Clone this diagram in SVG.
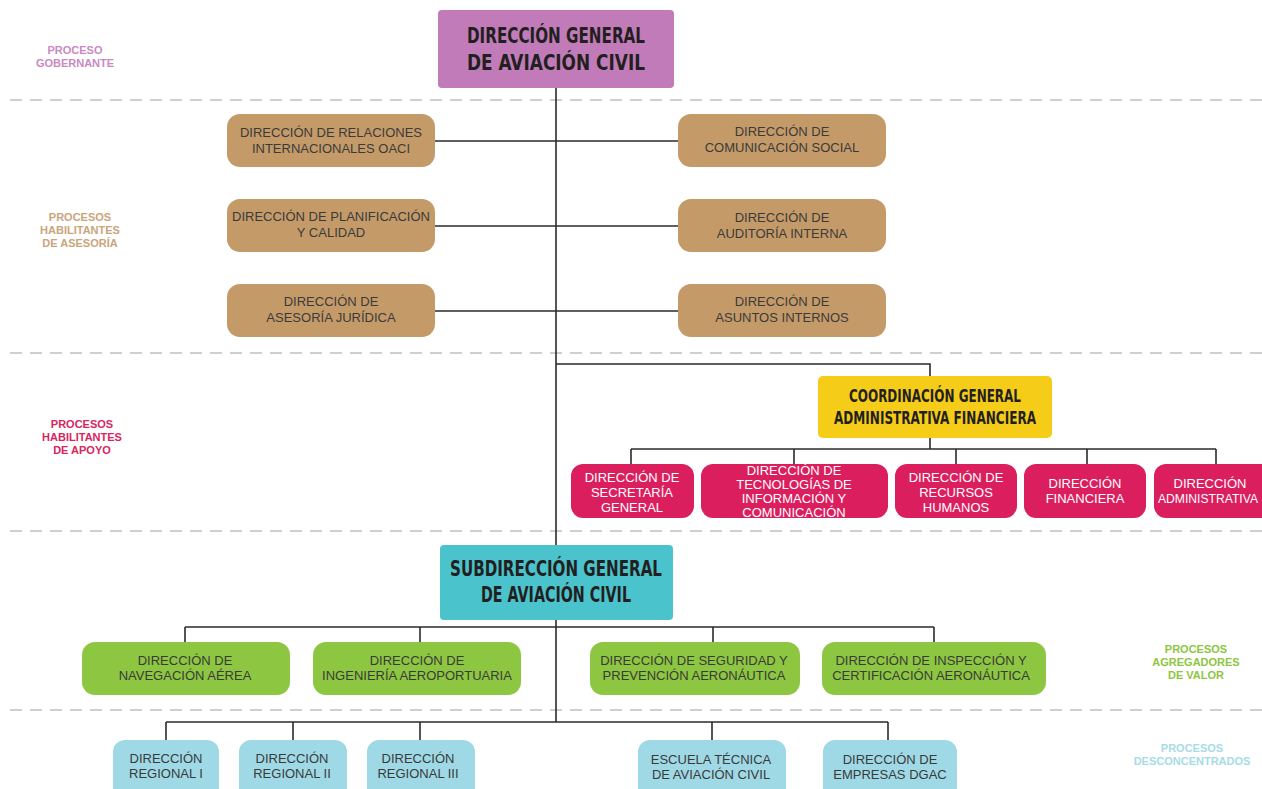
<svg xmlns="http://www.w3.org/2000/svg" width="1262" height="789" viewBox="0 0 1262 789">
<style>
.sep{stroke:#cfcfcf;stroke-width:2;stroke-dasharray:12 8;fill:none}
.con{stroke:#2b2b2b;stroke-width:1.6;fill:none}
.t{font-family:"Liberation Sans",Arial,sans-serif;font-size:13px;text-anchor:middle;fill:#3a3a3a}
.tw{font-family:"Liberation Sans",Arial,sans-serif;font-size:13px;text-anchor:middle;fill:#ffffff}
.h{font-family:"DejaVu Sans Condensed","Liberation Sans",Arial,sans-serif;font-weight:bold;font-size:21px;text-anchor:middle;fill:#231f20}
.h2{font-family:"DejaVu Sans Condensed","Liberation Sans",Arial,sans-serif;font-weight:bold;font-size:17px;text-anchor:middle;fill:#231f20}
.lab{font-family:"Liberation Sans",Arial,sans-serif;font-weight:bold;font-size:11px;text-anchor:middle}
.brown{fill:#c59a69}
.pink{fill:#db1e5e}
.green{fill:#8dc640}
.blue{fill:#9fd9e6}
</style>
<rect width="1262" height="789" fill="#ffffff"/>
<g id="separators">
<line class="sep" x1="10" y1="100" x2="1262" y2="100"/>
<line class="sep" x1="10" y1="353" x2="1262" y2="353"/>
<line class="sep" x1="10" y1="531" x2="1262" y2="531"/>
<line class="sep" x1="10" y1="710" x2="1262" y2="710"/>
</g>
<g id="labels">
<text class="lab" fill="#c98ac2"><tspan x="75" y="54">PROCESO</tspan><tspan x="75" y="67">GOBERNANTE</tspan></text>
<text class="lab" fill="#c9a57c"><tspan x="80" y="221">PROCESOS</tspan><tspan x="80" y="234">HABILITANTES</tspan><tspan x="80" y="247">DE ASESORÍA</tspan></text>
<text class="lab" fill="#d9245f"><tspan x="82" y="428">PROCESOS</tspan><tspan x="82" y="441">HABILITANTES</tspan><tspan x="82" y="454">DE APOYO</tspan></text>
<text class="lab" fill="#8dc640"><tspan x="1196" y="653">PROCESOS</tspan><tspan x="1196" y="666">AGREGADORES</tspan><tspan x="1196" y="679">DE VALOR</tspan></text>
<text class="lab" fill="#a6dbe8"><tspan x="1192" y="752">PROCESOS</tspan><tspan x="1192" y="765">DESCONCENTRADOS</tspan></text>
</g>
<g id="connectors">
<path class="con" d="M556 88V545M556 620V722"/>
<path class="con" d="M435 141H678M435 226H678M435 311H678"/>
<path class="con" d="M556 364H930V376M930 438V449M631 449H1216M631 449V464M794 449V464M956 449V464M1087 449V464M1216 449V464"/>
<path class="con" d="M185 627H934M185 627V642M420 627V642M713 627V642M934 627V642"/>
<path class="con" d="M166 722H888M166 722V740M293 722V740M420 722V740M712 722V740M888 722V740"/>
</g>
<g id="dgac">
<rect x="438" y="10" width="236" height="78" rx="4" fill="#c07bb8"/>
<text class="h" x="556" y="43" textLength="178" lengthAdjust="spacingAndGlyphs">DIRECCIÓN GENERAL</text>
<text class="h" x="556" y="70" textLength="178" lengthAdjust="spacingAndGlyphs">DE AVIACIÓN CIVIL</text>
</g>
<g id="relaciones"><rect class="brown" x="227" y="114" width="208" height="53" rx="13"/><text class="t"><tspan x="331" y="137">DIRECCIÓN DE RELACIONES</tspan><tspan x="331" y="153">INTERNACIONALES OACI</tspan></text></g>
<g id="planificacion"><rect class="brown" x="227" y="199" width="208" height="53" rx="13"/><text class="t"><tspan x="331" y="221">DIRECCIÓN DE PLANIFICACIÓN</tspan><tspan x="331" y="237">Y CALIDAD</tspan></text></g>
<g id="juridica"><rect class="brown" x="227" y="284" width="208" height="53" rx="13"/><text class="t"><tspan x="331" y="306">DIRECCIÓN DE</tspan><tspan x="331" y="322">ASESORÍA JURÍDICA</tspan></text></g>
<g id="comunicacion"><rect class="brown" x="678" y="114" width="208" height="53" rx="13"/><text class="t"><tspan x="782" y="136">DIRECCIÓN DE</tspan><tspan x="782" y="152">COMUNICACIÓN SOCIAL</tspan></text></g>
<g id="auditoria"><rect class="brown" x="678" y="199" width="208" height="53" rx="13"/><text class="t"><tspan x="782" y="222">DIRECCIÓN DE</tspan><tspan x="782" y="238">AUDITORÍA INTERNA</tspan></text></g>
<g id="asuntos"><rect class="brown" x="678" y="284" width="208" height="53" rx="13"/><text class="t"><tspan x="782" y="306">DIRECCIÓN DE</tspan><tspan x="782" y="322">ASUNTOS INTERNOS</tspan></text></g>
<g id="cgaf">
<rect x="818" y="376" width="234" height="62" rx="5" fill="#f5cc18"/>
<text class="h2" x="935" y="402" textLength="172" lengthAdjust="spacingAndGlyphs">COORDINACIÓN GENERAL</text>
<text class="h2" x="935" y="424" textLength="202" lengthAdjust="spacingAndGlyphs">ADMINISTRATIVA FINANCIERA</text>
</g>
<g id="secretaria"><rect class="pink" x="571" y="464" width="123" height="54" rx="12"/><text class="tw"><tspan x="632" y="482">DIRECCIÓN DE</tspan><tspan x="632" y="497">SECRETARÍA</tspan><tspan x="632" y="512">GENERAL</tspan></text></g>
<g id="tic"><rect class="pink" x="701" y="464" width="187" height="54" rx="12"/><text class="tw"><tspan x="794" y="475">DIRECCIÓN DE</tspan><tspan x="794" y="489">TECNOLOGÍAS DE</tspan><tspan x="794" y="503">INFORMACIÓN Y</tspan><tspan x="794" y="517">COMUNICACIÓN</tspan></text></g>
<g id="rrhh"><rect class="pink" x="895" y="464" width="122" height="54" rx="12"/><text class="tw"><tspan x="956" y="482">DIRECCIÓN DE</tspan><tspan x="956" y="497">RECURSOS</tspan><tspan x="956" y="512">HUMANOS</tspan></text></g>
<g id="financiera"><rect class="pink" x="1024" y="464" width="122" height="54" rx="12"/><text class="tw"><tspan x="1085" y="488">DIRECCIÓN</tspan><tspan x="1085" y="503">FINANCIERA</tspan></text></g>
<g id="administrativa"><rect class="pink" x="1154" y="464" width="130" height="54" rx="12"/><text class="tw" x="1210" y="488">DIRECCIÓN</text><text class="tw" x="1208" y="503" textLength="100" lengthAdjust="spacingAndGlyphs">ADMINISTRATIVA</text></g>
<g id="subdireccion">
<rect x="440" y="545" width="233" height="75" rx="4" fill="#4ac3cc"/>
<text class="h" x="556" y="576" textLength="212" lengthAdjust="spacingAndGlyphs">SUBDIRECCIÓN GENERAL</text>
<text class="h" x="556" y="602" textLength="150" lengthAdjust="spacingAndGlyphs">DE AVIACIÓN CIVIL</text>
</g>
<g id="navegacion"><rect class="green" x="82" y="642" width="208" height="53" rx="13"/><text class="t"><tspan x="185" y="665">DIRECCIÓN DE</tspan><tspan x="185" y="680">NAVEGACIÓN AÉREA</tspan></text></g>
<g id="ingenieria"><rect class="green" x="313" y="642" width="208" height="53" rx="13"/><text class="t"><tspan x="417" y="665">DIRECCIÓN DE</tspan><tspan x="417" y="680">INGENIERÍA AEROPORTUARIA</tspan></text></g>
<g id="seguridad"><rect class="green" x="590" y="642" width="210" height="53" rx="13"/><text class="t"><tspan x="694" y="665">DIRECCIÓN DE SEGURIDAD Y</tspan><tspan x="694" y="680">PREVENCIÓN AERONÁUTICA</tspan></text></g>
<g id="inspeccion"><rect class="green" x="822" y="642" width="224" height="53" rx="13"/><text class="t"><tspan x="931" y="665">DIRECCIÓN DE INSPECCIÓN Y</tspan><tspan x="931" y="680">CERTIFICACIÓN AERONÁUTICA</tspan></text></g>
<g id="regional1"><rect class="blue" x="113" y="740" width="106" height="60" rx="12"/><text class="t"><tspan x="166" y="763">DIRECCIÓN</tspan><tspan x="166" y="778">REGIONAL I</tspan></text></g>
<g id="regional2"><rect class="blue" x="239" y="740" width="108" height="60" rx="12"/><text class="t"><tspan x="292" y="763">DIRECCIÓN</tspan><tspan x="292" y="778">REGIONAL II</tspan></text></g>
<g id="regional3"><rect class="blue" x="367" y="740" width="108" height="60" rx="12"/><text class="t"><tspan x="418" y="763">DIRECCIÓN</tspan><tspan x="418" y="778">REGIONAL III</tspan></text></g>
<g id="escuela"><rect class="blue" x="638" y="740" width="148" height="60" rx="12"/><text class="t"><tspan x="711" y="764">ESCUELA TÉCNICA</tspan><tspan x="711" y="779">DE AVIACIÓN CIVIL</tspan></text></g>
<g id="empresas"><rect class="blue" x="823" y="740" width="134" height="60" rx="12"/><text class="t"><tspan x="890" y="764">DIRECCIÓN DE</tspan><tspan x="890" y="779">EMPRESAS DGAC</tspan></text></g>
</svg>
